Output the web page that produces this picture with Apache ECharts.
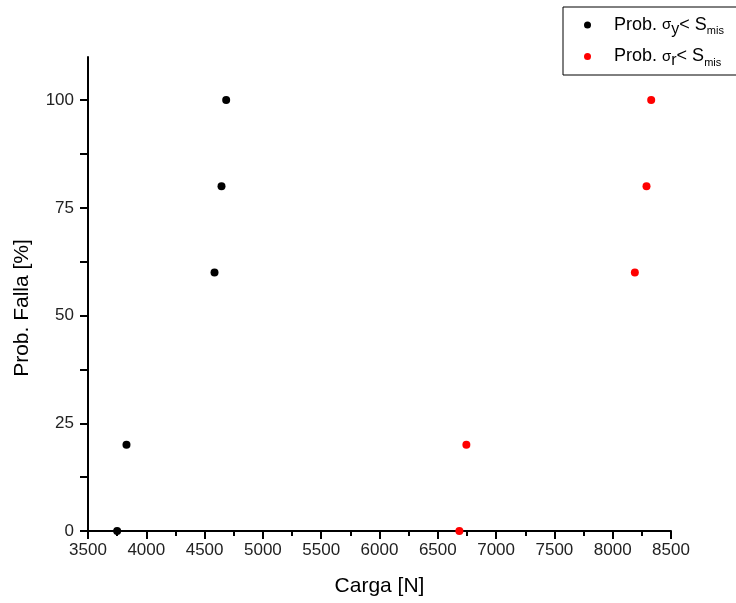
<!DOCTYPE html>
<html>
<head>
<meta charset="utf-8">
<script src="https://cdn.jsdelivr.net/npm/echarts@6/dist/echarts.min.js"></script>
<style>html,body{margin:0;padding:0;background:#fff}#c{width:736px;height:603px}</style>
</head>
<body>
<div id="c"></div>
<script>
// Data
var yieldLoad = [3750, 3830, 4585, 4645, 4685];   // Prob. σy < Smis  (Carga [N])
var yieldProb = [0, 20, 60, 80, 100];
var ruptLoad = [6685, 6745, 8190, 8290, 8330];    // Prob. σr < Smis
var ruptProb = [0, 20, 60, 80, 100];
var xTicks = [3500, 4000, 4500, 5000, 5500, 6000, 6500, 7000, 7500, 8000, 8500];
var yTicks = [0, 25, 50, 75, 100];
var yMinorTicks = [0, 12.5, 25, 37.5, 50, 62.5, 75, 87.5, 100];
var seriesNames = ['yield', 'rupt'];

function pairs(xs, ys) { return xs.map(function (x, i) { return [x, ys[i]]; }); }

var font = '"Liberation Sans", Arial, sans-serif';
var chart = echarts.init(document.getElementById('c'));
chart.setOption({
  animation: false,
  backgroundColor: '#fff',
  textStyle: { fontFamily: font },
  grid: { left: 88, right: 65, top: 57, bottom: 72, containLabel: false },
  legend: {
    orient: 'vertical',
    left: 563, top: 7,
    padding: [9, 60, 6, 21],
    borderColor: '#000', borderWidth: 1,
    itemWidth: 7, itemHeight: 7, itemGap: 10,
    icon: 'circle',
    data: seriesNames,
    formatter: function (name) {
      return name === 'yield'
        ? '{a|Prob. }{s|σ}{sub|y}{a|< S}{sub2|mis}'
        : '{a|Prob. }{s|σ}{sub|r}{a|< S}{sub2|mis}';
    },
    textStyle: {
      fontFamily: font, color: '#000', fontSize: 18,
      padding: [0, 0, 0, 18],
      rich: {
        a: { fontSize: 18, fontFamily: font, color: '#000' },
        s: { fontSize: 15, fontFamily: font, color: '#000' },
        sub: { fontSize: 16, fontFamily: font, color: '#000', padding: [9, 0, 0, 0] },
        sub2: { fontSize: 11, fontFamily: font, color: '#000', padding: [12, 0, 0, 0] }
      }
    }
  },
  xAxis: {
    type: 'value', min: 3500, max: 8500, interval: 500,
    name: 'Carga [N]', nameLocation: 'middle', nameGap: 45,
    nameTextStyle: { fontSize: 21, color: '#000', fontFamily: font },
    axisLine: { show: true, onZero: false, lineStyle: { color: '#000', width: 2 } },
    axisTick: { show: true, inside: false, length: 8, lineStyle: { color: '#000', width: 2 } },
    minorTick: { show: true, splitNumber: 2, length: 5, lineStyle: { color: '#000', width: 2 } },
    axisLabel: { fontSize: 17, color: '#222', margin: 11, fontFamily: font,
      formatter: function (v) { return xTicks.indexOf(v) >= 0 ? String(v) : ''; } },
    splitLine: { show: false }
  },
  yAxis: {
    type: 'value', min: 0, max: 110, interval: 12.5,
    name: 'Prob. Falla [%]', nameLocation: 'middle', nameGap: 55,
    nameTextStyle: { fontSize: 21, color: '#000', fontFamily: font, padding: [0, 28, 0, 0] },
    axisLine: { show: true, onZero: false, lineStyle: { color: '#000', width: 2 } },
    axisTick: { show: true, inside: false, length: 8, lineStyle: { color: '#000', width: 2 },
      customValues: yMinorTicks },
    axisLabel: { fontSize: 17, color: '#222', margin: 14, fontFamily: font,
      customValues: yTicks },
    splitLine: { show: false }
  },
  series: [
    { name: 'yield', type: 'scatter', symbol: 'circle', symbolSize: 8,
      itemStyle: { color: '#000', opacity: 1 }, data: pairs(yieldLoad, yieldProb) },
    { name: 'rupt', type: 'scatter', symbol: 'circle', symbolSize: 8,
      itemStyle: { color: '#ff0000', opacity: 1 }, data: pairs(ruptLoad, ruptProb) }
  ]
});
</script>
</body>
</html>
